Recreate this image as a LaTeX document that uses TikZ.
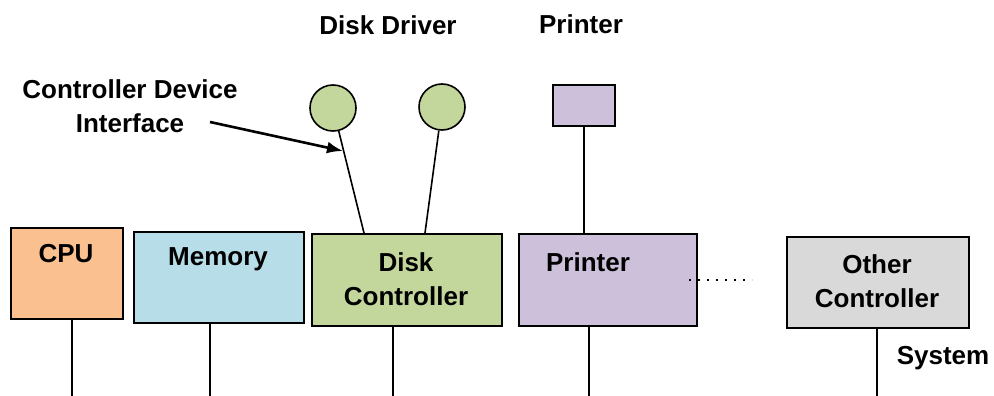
\documentclass[tikz,border=0pt]{standalone}
\usepackage{fontspec}
\setmainfont{Liberation Sans}
\usetikzlibrary{arrows.meta}
\definecolor{cpuc}{HTML}{FAC090}
\definecolor{memc}{HTML}{B7DDE8}
\definecolor{diskc}{HTML}{C3D69B}
\definecolor{prnc}{HTML}{CCC0DA}
\definecolor{othc}{HTML}{D9D9D9}
\tikzset{
  box/.style={draw=black, line width=2pt, inner sep=0pt, anchor=north west},
  lbl/.style={font=\fontsize{26}{34}\selectfont\bfseries, inner sep=0pt, align=center},
  wire/.style={line width=1.6pt},
  drv/.style={circle, draw=black, line width=1.6pt, fill=diskc, minimum size=46pt, inner sep=0pt}
}
\begin{document}
\begin{tikzpicture}[x=1pt,y=-1pt]
\useasboundingbox (0,0) rectangle (994,396);
% boxes
\node[box, fill=cpuc, minimum width=112pt, minimum height=91pt] (cpu) at (10,227) {};
\node[box, fill=memc, minimum width=170pt, minimum height=91pt] (mem) at (133,231) {};
\node[box, fill=diskc, minimum width=190pt, minimum height=92pt] (disk) at (311,233) {};
\node[box, fill=prnc, minimum width=178pt, minimum height=92pt] (prn) at (518,233) {};
\node[box, fill=othc, minimum width=182pt, minimum height=91pt] (oth) at (786,236) {};
\node[box, fill=prnc, line width=1.6pt, minimum width=62pt, minimum height=41pt] (pdev) at (552,84) {};
% box texts
\node[lbl] (tcpu) at (66,254) {CPU};
\node[lbl] (tmem) at (218,259) {Memory};
\node[lbl] (tdisk) at (406,279) {Disk\\Controller};
\node[lbl] (tprn) at (588,262) {Printer};
\node[lbl] (toth) at (877,281) {Other\\Controller};
% top labels
\node[lbl] (tdd) at (388,25) {Disk Driver};
\node[lbl] (tpp) at (581,24) {Printer};
\node[lbl] (tcdi) at (130,106) {Controller Device\\Interface};
\node[lbl] (tsys) at (943,358) {System};
% driver circles
\node[drv] (c1) at (333,108) {};
\node[drv] (c2) at (442,107) {};
\coordinate (d1) at (364,233);
\coordinate (d2) at (425,233);
\draw[wire] (c1) -- (d1);
\draw[wire] (c2) -- (d2);
% printer device
\draw[wire] (pdev.south) -- (pdev.south |- prn.north);
% arrow
\coordinate (as) at (210,122);
\coordinate (ae) at (343,151);
\draw[line width=2.6pt, -{Latex[length=16pt,width=12pt]}] (as) -- (ae);
% dots
\coordinate (dots1) at (689,280);
\coordinate (dots2) at (752,280);
\draw[line width=2pt, dash pattern=on 2pt off 7pt] (dots1) -- (dots2);
% bus lines
\coordinate (b1) at (72,396);
\coordinate (b2) at (210,396);
\coordinate (b3) at (393,396);
\coordinate (b4) at (589,396);
\coordinate (b5) at (877,396);
\draw[wire] (b1 |- cpu.south) -- (b1);
\draw[wire] (b2 |- mem.south) -- (b2);
\draw[wire] (b3 |- disk.south) -- (b3);
\draw[wire] (b4 |- prn.south) -- (b4);
\draw[wire] (b5 |- oth.south) -- (b5);
\end{tikzpicture}
\end{document}
